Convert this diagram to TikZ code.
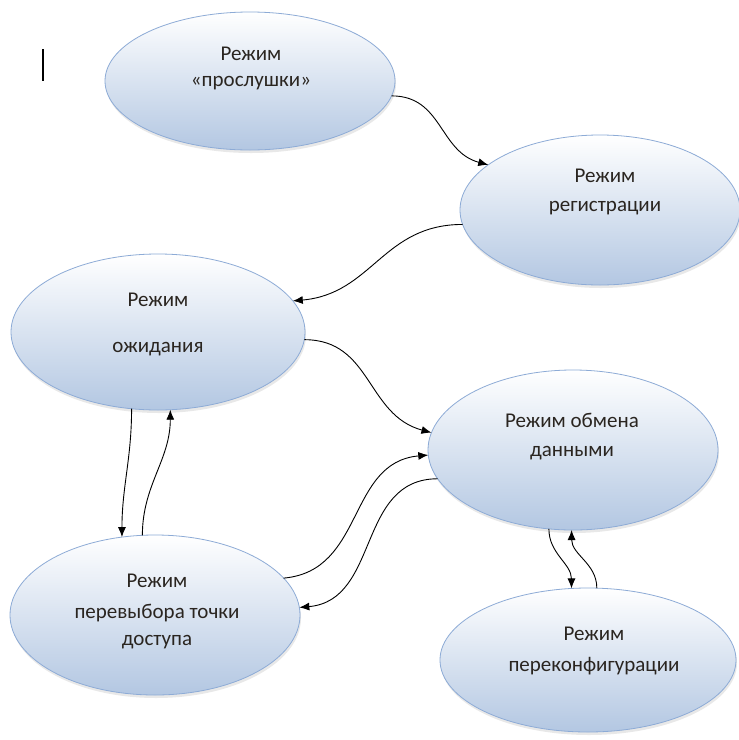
\documentclass[tikz,border=0pt]{standalone}
\usepackage{fontspec}
\setmainfont{Carlito}
\usetikzlibrary{shapes.geometric,arrows.meta,shadows}
\definecolor{ebot}{HTML}{B3C7E2}
\definecolor{eborder}{HTML}{8DABD6}
\definecolor{txt}{HTML}{2A2520}
\tikzset{
  st/.style={ellipse, draw=eborder, line width=0.8pt, top color=white, bottom color=ebot,
    inner sep=0pt, outer sep=0pt,
    drop shadow={opacity=0.18, shadow xshift=1pt, shadow yshift=-3pt}},
  lbl/.style={text=txt, font=\fontsize{21}{24}\selectfont, inner sep=0pt, anchor=center},
  conn/.style={black, line width=0.9pt, -{Latex[length=10pt,width=8pt]}},
}
\begin{document}
\begin{tikzpicture}[x=1pt,y=-1pt]
\useasboundingbox (0,0) rectangle (739,740);
\fill[white] (0,0) rectangle (739,740);
% ellipses
\node[st, minimum width=290pt, minimum height=138pt] (e1) at (250,81) {};
\node[st, minimum width=280pt, minimum height=150pt] (e2) at (600,210) {};
\node[st, minimum width=294pt, minimum height=156pt] (e3) at (158,332) {};
\node[st, minimum width=290pt, minimum height=160pt] (e4) at (573,450) {};
\node[st, minimum width=290pt, minimum height=160pt] (e5) at (155,615) {};
\node[st, minimum width=296pt, minimum height=144pt] (e6) at (588,660) {};
% labels
\node[lbl] (t1a) at (251,54) {Режим};
\node[lbl] (t1b) at (251,83) {«прослушки»};
\node[lbl] (t2a) at (605,176) {Режим};
\node[lbl] (t2b) at (605,208) {регистрации};
\node[lbl] (t3a) at (158,300) {Режим};
\node[lbl] (t3b) at (158,349) {ожидания};
\node[lbl] (t4a) at (572,420) {Режим обмена};
\node[lbl] (t4b) at (572,453) {данными};
\node[lbl] (t5a) at (157,581) {Режим};
\node[lbl] (t5b) at (157,613) {перевыбора точки};
\node[lbl] (t5c) at (157,642) {доступа};
\node[lbl] (t6a) at (594,634) {Режим};
\node[lbl] (t6b) at (594,666) {переконфигурации};
% cursor mark
\draw[line width=1.6pt] (43,49) -- (43,81);
% connectors
\draw[conn] (e1.-6) to[out=0,in=165,looseness=1.1] (e2.158);
\draw[conn] (e2.186) to[out=180,in=5,looseness=1.1] (e3.13);
\draw[conn] (e3.-3) to[out=0,in=165,looseness=1.1] (e4.173);
\draw[conn] (e3.251) to[out=-90,in=90] (e5.113);
\draw[conn] (e5.99) to[out=90,in=-90] (e3.279);
\draw[conn] (e5.16) to[out=5,in=185,looseness=1.1] (e4.182);
\draw[conn] (e4.192) to[out=180,in=5,looseness=1.1] (e5.3);
\draw[conn] (e4.253) to[out=-90,in=90] (e6.103);
\draw[conn] (e6.83) to[out=90,in=-90] (e4.269);
\end{tikzpicture}
\end{document}
